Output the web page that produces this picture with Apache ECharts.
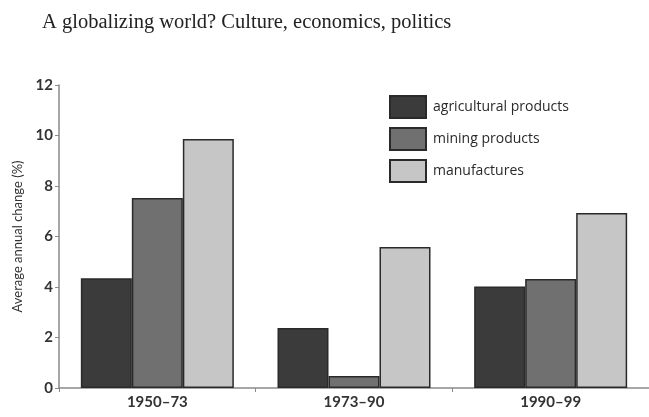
<!DOCTYPE html>
<html>
<head>
<meta charset="utf-8">
<script src="https://cdn.jsdelivr.net/npm/echarts@6/dist/echarts.min.js"></script>
<style>
html, body { margin: 0; padding: 0; background: #fff; }
#main { width: 649px; height: 417px; }
</style>
</head>
<body>
<div id="main"></div>
<script>
var periods = ['1950–73', '1973–90', '1990–99'];
var agricultural = [4.35, 2.38, 4.02];
var mining = [7.52, 0.48, 4.32];
var manufactures = [9.86, 5.58, 6.93];
var seriesNames = ['agricultural products', 'mining products', 'manufactures'];
var yTicks = [0, 2, 4, 6, 8, 10, 12];

// 初始化图表
var myChart = echarts.init(document.getElementById('main'));
var labelFont = 'Lato';

function barSeries(name, data, color) {
	return {
		name : name,
		type : 'bar',
		data : data,
		barWidth : 51,
		barGap : '0%',
		itemStyle : {
			color : color,
			borderColor : '#2a2a2a',
			borderWidth : 1.5
		}
	};
}

var option = {
	animation : false,
	backgroundColor : '#fff',
	title : {
		text : 'A globalizing world? Culture, economics, politics',
		left : 37,
		top : 7,
		textStyle : {
			fontFamily : 'Liberation Serif',
			fontWeight : 'normal',
			fontSize : 20.5,
			color : '#222'
		}
	},
	legend : {
		orient : 'vertical',
		left : 389,
		top : 95,
		padding : 0,
		icon : 'rect',
		itemWidth : 36,
		itemHeight : 22,
		itemGap : 8,
		textStyle : {
			fontFamily : 'Open Sans',
			fontSize : 14,
			color : '#2a2a2a',
			padding : [0, 0, 0, 2]
		},
		data : seriesNames
	},
	grid : {
		left : 59,
		right : -5,
		top : 85,
		bottom : 29
	},
	xAxis : {
		type : 'category',
		data : periods,
		axisLine : { lineStyle : { color : '#8a8a8a', width : 1.5 } },
		axisTick : { show : true, length : 4, lineStyle : { color : '#8a8a8a' } },
		axisLabel : {
			fontFamily : labelFont,
			fontWeight : 'bold',
			fontSize : 15,
			color : '#333',
			margin : 7
		}
	},
	yAxis : {
		type : 'value',
		min : yTicks[0],
		max : yTicks[yTicks.length - 1],
		interval : 2,
		name : 'Average annual change (%)',
		nameLocation : 'middle',
		nameGap : 31,
		nameTextStyle : {
			fontFamily : labelFont,
			fontSize : 13,
			color : '#333'
		},
		axisLine : { show : true, lineStyle : { color : '#8a8a8a', width : 1.5 } },
		axisTick : { show : true, length : 4, lineStyle : { color : '#8a8a8a' } },
		splitLine : { show : false },
		axisLabel : {
			fontFamily : labelFont,
			fontWeight : 'bold',
			fontSize : 15,
			color : '#333',
			margin : 6
		}
	},
	series : [
		barSeries(seriesNames[0], agricultural, '#3b3b3b'),
		barSeries(seriesNames[1], mining, '#707070'),
		barSeries(seriesNames[2], manufactures, '#c6c6c6')
	]
};

myChart.setOption(option);
</script>
</body>
</html>
